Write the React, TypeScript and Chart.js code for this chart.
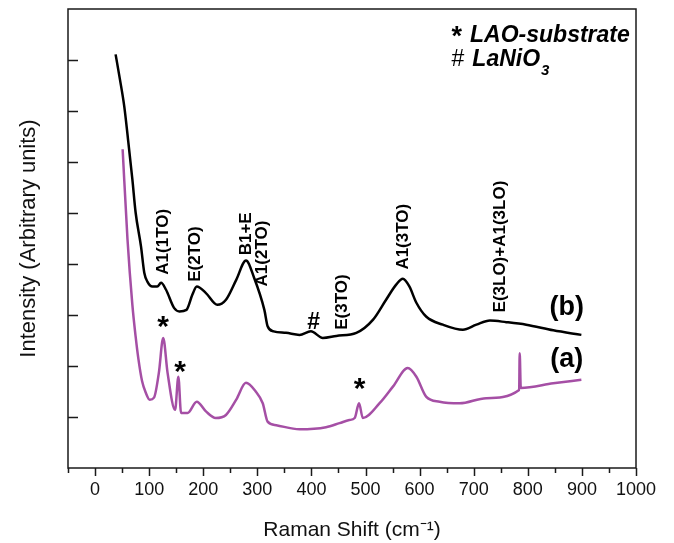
import React, { useEffect, useRef } from 'react';
import { Chart, registerables } from 'chart.js';

Chart.register(...registerables);

// ---- data (Raman shift in cm^-1, intensity in arbitrary units) ----
const shiftB = [38, 46, 54, 61, 69, 75, 85, 91, 97, 106, 115, 122, 131, 146, 156, 169, 180, 188, 205, 226, 242, 261, 279, 294, 313, 319, 330, 353, 378, 399, 421, 446, 483, 514, 538, 557, 569, 581, 594, 612, 643, 680, 705, 730, 760, 797, 847, 899];
const intensityB = [8.11, 7.62, 7.09, 6.44, 5.66, 5.01, 4.34, 3.83, 3.65, 3.56, 3.56, 3.63, 3.50, 3.14, 3.07, 3.10, 3.40, 3.56, 3.43, 3.20, 3.30, 3.69, 4.07, 3.73, 3.10, 2.78, 2.68, 2.65, 2.61, 2.68, 2.55, 2.59, 2.65, 2.91, 3.30, 3.60, 3.71, 3.56, 3.24, 2.97, 2.81, 2.71, 2.81, 2.89, 2.86, 2.81, 2.70, 2.61];

const shiftA = [51, 60, 69, 75, 80, 87, 94, 101, 109, 118, 126, 134, 148, 154, 159, 171, 188, 205, 223, 242, 261, 279, 297, 310, 319, 335, 378, 427, 452, 470, 480, 488, 495, 526, 551, 578, 594, 612, 637, 674, 723, 784, 785, 787, 847, 899];
const intensityA = [6.25, 4.48, 3.20, 2.58, 2.15, 1.70, 1.47, 1.34, 1.38, 1.87, 2.55, 1.87, 1.14, 1.79, 1.08, 1.08, 1.30, 1.11, 0.98, 1.04, 1.34, 1.67, 1.50, 1.27, 0.91, 0.84, 0.76, 0.80, 0.88, 0.94, 0.98, 1.27, 0.98, 1.27, 1.60, 1.96, 1.79, 1.40, 1.30, 1.27, 1.37, 1.53, 2.25, 1.57, 1.66, 1.73];

const xMajorTicks = [0, 100, 200, 300, 400, 500, 600, 700, 800, 900, 1000];
const xMinorTicks = [-50, 50, 150, 250, 350, 450, 550, 650, 750, 850, 950];
const yTicks = [1, 2, 3, 4, 5, 6, 7, 8];

// mode labels (rotated), anchored at the lower end of the text
const modeLabels = [
  { text: 'A1(1TO)', x: 126, y: 3.79 },
  { text: 'E(2TO)', x: 185, y: 3.65 },
  { text: 'B1+E', x: 280, y: 4.17 },
  { text: 'A1(2TO)', x: 309, y: 3.56 },
  { text: 'E(3TO)', x: 457, y: 2.71 },
  { text: 'A1(3TO)', x: 569, y: 3.89 },
  { text: 'E(3LO)+A1(3LO)', x: 750, y: 3.05 },
];
const starMarks = [
  { x: 126, y: 2.87 },
  { x: 157, y: 1.98 },
  { x: 489, y: 1.65 },
];
const hashMarks = [{ x: 404, y: 2.89 }];
const curveTags = [
  { text: '(b)', x: 872, y: 3.14 },
  { text: '(a)', x: 872, y: 2.12 },
];
const legendLines = [
  { mark: '*', text: 'LAO-substrate', sub: '', x: 659, y: 8.35 },
  { mark: '#', text: 'LaNiO', sub: '3', x: 659, y: 7.88 },
];

const FONT = '"Liberation Sans", Arial, Helvetica, sans-serif';

function drawCentered(ctx: CanvasRenderingContext2D, text: string, cx: number, cy: number) {
  ctx.textAlign = 'center';
  ctx.textBaseline = 'alphabetic';
  const m = ctx.measureText(text);
  const by = cy + (m.actualBoundingBoxAscent - m.actualBoundingBoxDescent) / 2;
  ctx.fillText(text, cx, by);
}

const decorPlugin = {
  id: 'decor',
  afterDatasetsDraw(chart: any) {
    const { ctx, chartArea: a, scales } = chart;
    const xs = scales.x;
    const ys = scales.y;
    ctx.save();
    // frame
    ctx.strokeStyle = '#1a1a1a';
    ctx.lineWidth = 1.5;
    ctx.strokeRect(a.left, a.top, a.right - a.left, a.bottom - a.top);
    // ticks
    ctx.beginPath();
    xMajorTicks.forEach((v) => {
      const px = Math.round(xs.getPixelForValue(v)) + 0.5;
      ctx.moveTo(px, a.bottom);
      ctx.lineTo(px, a.bottom + 8);
    });
    xMinorTicks.forEach((v) => {
      const px = Math.round(xs.getPixelForValue(v)) + 0.5;
      ctx.moveTo(px, a.bottom);
      ctx.lineTo(px, a.bottom + 5);
    });
    yTicks.forEach((v) => {
      const py = Math.round(ys.getPixelForValue(v)) + 0.5;
      ctx.moveTo(a.left, py);
      ctx.lineTo(a.left + 10, py);
    });
    ctx.stroke();

    ctx.fillStyle = '#000';
    // rotated mode labels
    ctx.font = `bold 17px ${FONT}`;
    modeLabels.forEach((l) => {
      const px = xs.getPixelForValue(l.x);
      const py = ys.getPixelForValue(l.y);
      ctx.save();
      ctx.translate(px, py);
      ctx.rotate(-Math.PI / 2);
      ctx.textAlign = 'left';
      ctx.textBaseline = 'middle';
      ctx.fillText(l.text, 0, 0);
      ctx.restore();
    });
    // stars
    ctx.font = `bold 30px ${FONT}`;
    starMarks.forEach((s) => drawCentered(ctx, '*', xs.getPixelForValue(s.x), ys.getPixelForValue(s.y)));
    // hash
    ctx.font = `bold 23px ${FONT}`;
    hashMarks.forEach((s) => drawCentered(ctx, '#', xs.getPixelForValue(s.x), ys.getPixelForValue(s.y)));
    // curve tags
    ctx.font = `bold 27px ${FONT}`;
    curveTags.forEach((t) => drawCentered(ctx, t.text, xs.getPixelForValue(t.x), ys.getPixelForValue(t.y)));
    // legend
    legendLines.forEach((l) => {
      let px = xs.getPixelForValue(l.x);
      const py = ys.getPixelForValue(l.y);
      ctx.textAlign = 'left';
      ctx.textBaseline = 'alphabetic';
      ctx.font = l.mark === '*' ? `bold 27px ${FONT}` : `23px ${FONT}`;
      ctx.fillText(l.mark, px, py + (l.mark === '*' ? 3 : 0));
      px += ctx.measureText(l.mark).width + 8;
      ctx.font = `italic bold 23px ${FONT}`;
      ctx.fillText(l.text, px, py);
      px += ctx.measureText(l.text).width + 1;
      if (l.sub) {
        ctx.font = `italic bold 15px ${FONT}`;
        ctx.fillText(l.sub, px, py + 9);
      }
    });
    ctx.restore();
  },
};

export default function App() {
  const ref = useRef<HTMLCanvasElement | null>(null);
  useEffect(() => {
    if (!ref.current) return;
    Chart.defaults.font.family = FONT;
    const chart = new Chart(ref.current, {
      type: 'line',
      data: {
        datasets: [
          {
            label: '(b)',
            data: shiftB.map((x, i) => ({ x, y: intensityB[i] })),
            borderColor: '#000000',
            borderWidth: 2.5,
            pointRadius: 0,
            cubicInterpolationMode: 'monotone',
            fill: false,
          },
          {
            label: '(a)',
            data: shiftA.map((x, i) => ({ x, y: intensityA[i] })),
            borderColor: '#a54fa5',
            borderWidth: 2.5,
            pointRadius: 0,
            cubicInterpolationMode: 'monotone',
            fill: false,
          },
        ],
      },
      options: {
        responsive: false,
        animation: false,
        devicePixelRatio: 1,
        layout: { padding: { top: 9, right: 38, left: 0, bottom: 0 } },
        plugins: { legend: { display: false }, tooltip: { enabled: false } },
        scales: {
          x: {
            type: 'linear',
            min: -50,
            max: 1000,
            afterFit: (s: any) => { s.height = 75; },
            afterBuildTicks: (s: any) => { s.ticks = xMajorTicks.map((v) => ({ value: v })); },
            grid: { display: false, drawTicks: false },
            border: { display: false },
            ticks: {
              padding: 11,
              color: '#111',
              font: { size: 18 },
              autoSkip: false,
              maxRotation: 0,
              callback: (v: any) => String(v),
            },
            title: {
              display: true,
              text: 'Raman Shift (cm\u207B\u00B9)',
              color: '#111',
              font: { size: 21 },
              padding: { top: 0, bottom: 0 },
            },
          },
          y: {
            type: 'linear',
            min: 0,
            max: 9,
            afterFit: (s: any) => { s.width = 68; },
            grid: { display: false, drawTicks: false },
            border: { display: false },
            ticks: { display: false },
            title: {
              display: true,
              text: 'Intensity (Arbitrary units)',
              color: '#111',
              font: { size: 22 },
              padding: { top: 16, bottom: 0 },
            },
          },
        },
      },
      plugins: [decorPlugin],
    } as any);
    return () => chart.destroy();
  }, []);
  return (
    <div style={{ position: 'absolute', left: 0, top: 0, width: 674, height: 543 }}>
      <canvas ref={ref} width={674} height={543} style={{ display: 'block' }} />
    </div>
  );
}
